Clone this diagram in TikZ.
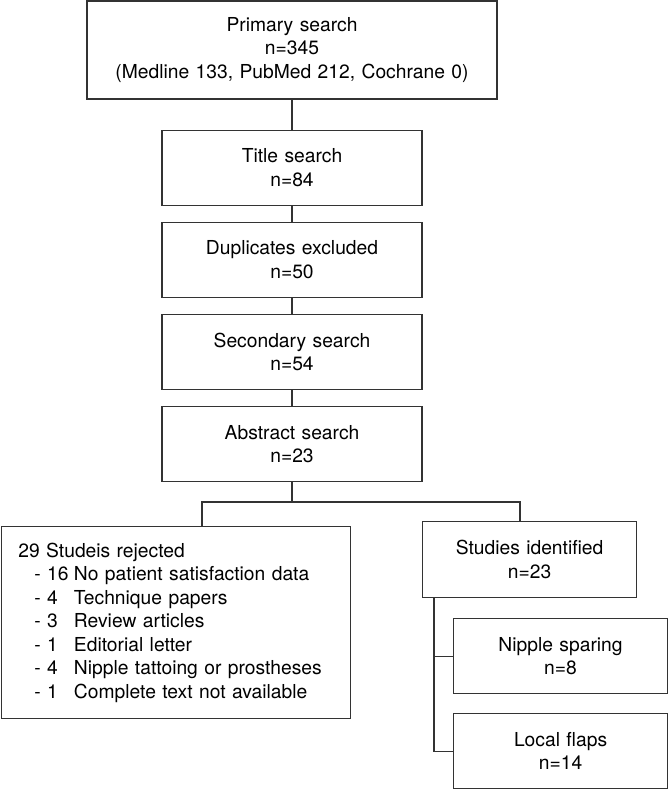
\documentclass[tikz,border=0pt]{standalone}
\usepackage{fontspec}
\setmainfont{TeX Gyre Heros}
\usetikzlibrary{positioning}
\tikzstyle{block} = [
  rectangle, draw=black!80, line width=0.8pt, text centered, text width =
  6cm, minimum width = 6.5cm, minimum height = 1.875cm, inner sep = 0pt,
  font = \fontsize{13.7}{16.7}\selectfont
]
\tikzstyle{link} = [draw=black!80, line width=0.8pt]
\newcommand{\rej}[2]{\hspace*{0.4cm}- \makebox[1.39em][l]{#1}#2}

\begin{document}
\begin{tikzpicture}
    \useasboundingbox (0,0) rectangle (16.7,-19.725);

    \node[block, minimum width=10.25cm, text width=10cm, minimum height=2.45cm] (primary) at (7.3,-1.25)
        {Primary search\\ n=345\\ (Medline 133, PubMed 212, Cochrane 0)};
    \node[block, below=0.75cm of primary] (title) {Title search\\ n=84};
    \node[block, below=0.4cm of title] (dupl) {Duplicates excluded\\ n=50};
    \node[block, below=0.4cm of dupl] (second) {Secondary search\\ n=54};
    \node[block, below=0.4cm of second] (abstract) {Abstract search\\ n=23};

    \node[block, anchor=north west, minimum width=8.725cm, text width=7.875cm,
        minimum height=4.8cm, align=left] (rejected) at (0.02,-13.15)
        {29 Studeis rejected\\
         \rej{16}{No patient satisfaction data}\\
         \rej{4}{Technique papers}\\
         \rej{3}{Review articles}\\
         \rej{1}{Editorial letter}\\
         \rej{4}{Nipple tattoing or prostheses}\\
         \rej{1}{Complete text not available}};
    \node[block, anchor=north west, minimum width=5.35cm, text width=5cm, minimum height=1.9cm]
        (studies) at (10.55,-13.025) {Studies identified\\ n=23};
    \node[block, anchor=north west, minimum width=5.35cm, text width=5cm] (nipple) at (11.325,-15.45)
        {Nipple sparing\\ n=8};
    \node[block, below=0.475cm of nipple, minimum width=5.35cm, text width=5cm] (local)
        {Local flaps\\ n=14};

    % connectors
    \draw[link] (primary.south) -- (title.north);
    \draw[link] (title.south) -- (dupl.north);
    \draw[link] (dupl.south) -- (second.north);
    \draw[link] (second.south) -- (abstract.north);

    \coordinate (split) at (7.3,-12.55);
    \coordinate (leftdrop) at (5.05,-12.55);
    \coordinate (rightdrop) at (13,-12.55);
    \coordinate (branch) at (10.85,-14.925);
    \draw[link] (abstract.south) -- (split);
    \draw[link] (leftdrop |- rejected.north) -- (leftdrop) -- (rightdrop) -- (rightdrop |- studies.north);
    \draw[link] (branch |- studies.south) -- (branch |- local.west) -- (local.west);
    \draw[link] (branch |- nipple.west) -- (nipple.west);
\end{tikzpicture}
\end{document}
